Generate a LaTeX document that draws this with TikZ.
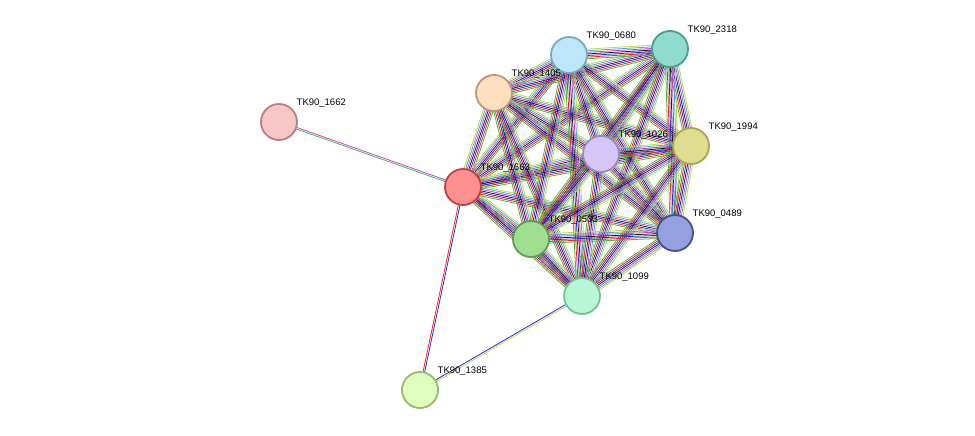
\documentclass[tikz,border=0pt]{standalone}
\usepackage{fontspec}
\setmainfont{Liberation Sans}
\usetikzlibrary{calc}
\definecolor{cgreen}{HTML}{3DBE3D}
\definecolor{cred}{HTML}{FF2020}
\definecolor{cblue}{HTML}{2030E0}
\definecolor{cblack}{HTML}{202020}
\definecolor{cmag}{HTML}{D040D0}
\definecolor{ccyan}{HTML}{40B0D0}
\definecolor{cyel}{HTML}{C8D840}
\tikzset{
  prot/.style={circle,minimum size=36pt,inner sep=0pt,line width=1.8pt},
  lab/.style={font=\fontsize{9.5pt}{10pt}\selectfont,anchor=south west,inner sep=0.5pt},
  ln/.style={line width=0.8pt}
}
\newcommand{\myedge}[3]{%
  \foreach \c [count=\i] in {#3} {
    \pgfmathsetmacro{\off}{(\i-0.5-#2/2)*1.6}
    \draw[ln,\c] ($(#1)!\off pt!90:(E)$) -- ($(E)!\off pt!-90:(#1)$);
  }}
\newcommand{\E}[4]{\coordinate (E) at (#2); \myedge{#1}{#3}{#4}}
\begin{document}
\begin{tikzpicture}[x=1pt,y=-1pt]
\useasboundingbox (0,0) rectangle (975,436);
\coordinate (p1662) at (279,122);
\coordinate (p1663) at (463,187);
\coordinate (p1405) at (494,93);
\coordinate (p0680) at (569,55);
\coordinate (p2318) at (670,49);
\coordinate (p1026) at (601,154);
\coordinate (p1994) at (691,146);
\coordinate (p0533) at (531,239);
\coordinate (p0489) at (675,233);
\coordinate (p1099) at (582,296);
\coordinate (p1385) at (420,390);
% edges
\E{p1662}{p1663}{2}{cgreen,cmag}
\E{p1663}{p1385}{2}{cred,cblue}
\E{p1385}{p1099}{2}{cyel,cblue}
\foreach \a/\b in {1663/1405,1663/0680,1663/2318,1663/1026,1663/1994,1663/0533,1663/0489,1663/1099,
  1405/0680,1405/2318,1405/1026,1405/1994,1405/0533,1405/0489,1405/1099,
  0680/2318,0680/1026,0680/1994,0680/0533,0680/0489,0680/1099,
  2318/1026,2318/1994,2318/0533,2318/0489,2318/1099,
  1026/1994,1026/0533,1026/0489,1026/1099,
  1994/0533,1994/0489,1994/1099,
  0533/0489,0533/1099,0489/1099}{
  \coordinate (E) at (p\b);
  \myedge{p\a}{7}{cgreen,cred,cblue,cblack,cmag,ccyan,cyel}
}
% nodes
\node[prot,fill={rgb,255:red,247;green,198;blue,198},draw={rgb,255:red,184;green,128;blue,128}] (n1662) at (p1662) {};
\node[prot,fill={rgb,255:red,255;green,144;blue,144},draw={rgb,255:red,196;green,64;blue,64}] (n1663) at (p1663) {};
\node[prot,fill={rgb,255:red,255;green,223;blue,191},draw={rgb,255:red,190;green,150;blue,120}] (n1405) at (p1405) {};
\node[prot,fill={rgb,255:red,189;green,230;blue,250},draw={rgb,255:red,120;green,170;blue,190}] (n0680) at (p0680) {};
\node[prot,fill={rgb,255:red,143;green,220;blue,207},draw={rgb,255:red,70;green,160;blue,140}] (n2318) at (p2318) {};
\node[prot,fill={rgb,255:red,213;green,198;blue,247},draw={rgb,255:red,150;green,140;blue,190}] (n1026) at (p1026) {};
\node[prot,fill={rgb,255:red,224;green,220;blue,144},draw={rgb,255:red,170;green,165;blue,80}] (n1994) at (p1994) {};
\node[prot,fill={rgb,255:red,158;green,222;blue,142},draw={rgb,255:red,90;green,160;blue,80}] (n0533) at (p0533) {};
\node[prot,fill={rgb,255:red,149;green,160;blue,224},draw={rgb,255:red,70;green,80;blue,140}] (n0489) at (p0489) {};
\node[prot,fill={rgb,255:red,184;green,247;blue,213},draw={rgb,255:red,120;green,190;blue,150}] (n1099) at (p1099) {};
\node[prot,fill={rgb,255:red,223;green,255;blue,191},draw={rgb,255:red,150;green,185;blue,110}] (n1385) at (p1385) {};
% labels
\foreach \n in {1662,1663,1405,0680,2318,1026,1994,0533,0489,1099,1385}{
  \node[lab] (l\n) at ($(p\n)+(17,-14)$) {TK90\_\n};
}
\end{tikzpicture}
\end{document}
